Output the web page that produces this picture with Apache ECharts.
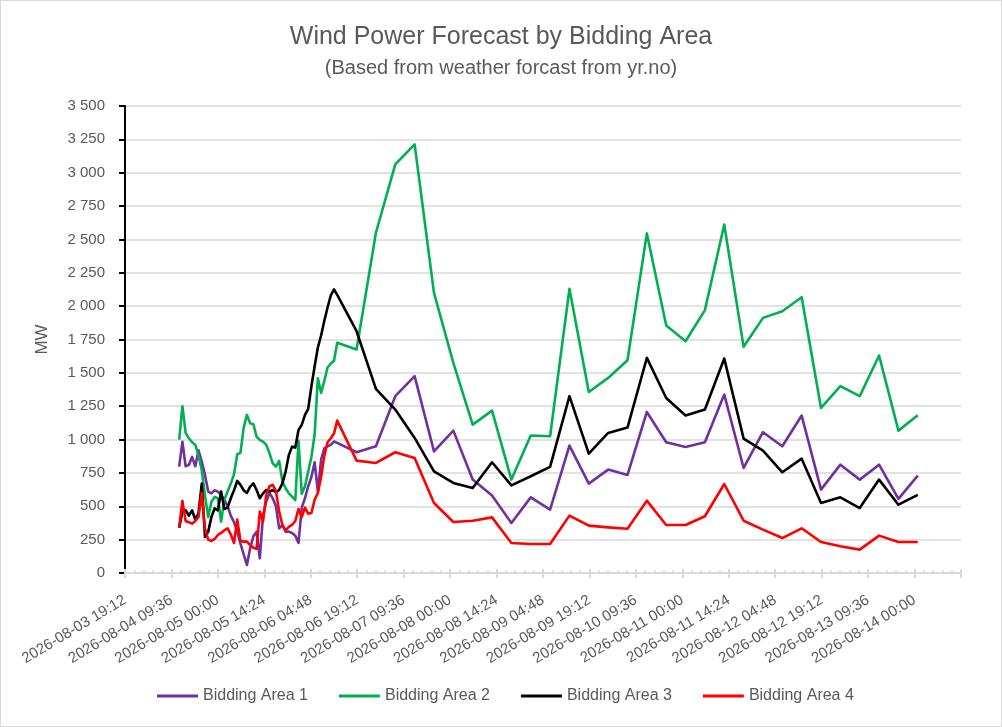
<!DOCTYPE html>
<html>
<head>
<meta charset="utf-8">
<script src="https://cdn.jsdelivr.net/npm/echarts@6/dist/echarts.min.js"></script>
<style>
html,body{margin:0;padding:0;background:#fff;}
#wrap{position:relative;width:1002px;height:727px;}
#chart{width:1002px;height:727px;}
#frame{position:absolute;left:0;top:0;width:1002px;height:727px;box-sizing:border-box;border:1px solid #d9d9d9;pointer-events:none;}
</style>
</head>
<body>
<div id="wrap"><div id="chart"></div><div id="frame"></div></div>
<script>
const times = [
"2026-08-04 12:00","2026-08-04 13:00","2026-08-04 14:00","2026-08-04 15:00","2026-08-04 16:00","2026-08-04 17:00",
"2026-08-04 18:00","2026-08-04 19:00","2026-08-04 20:00","2026-08-04 21:00","2026-08-04 22:00","2026-08-04 23:00",
"2026-08-05 00:00","2026-08-05 01:00","2026-08-05 02:00","2026-08-05 03:00","2026-08-05 04:00","2026-08-05 05:00",
"2026-08-05 06:00","2026-08-05 07:00","2026-08-05 08:00","2026-08-05 09:00","2026-08-05 10:00","2026-08-05 11:00",
"2026-08-05 12:00","2026-08-05 13:00","2026-08-05 14:00","2026-08-05 15:00","2026-08-05 16:00","2026-08-05 17:00",
"2026-08-05 18:00","2026-08-05 19:00","2026-08-05 20:00","2026-08-05 21:00","2026-08-05 22:00","2026-08-05 23:00",
"2026-08-06 00:00","2026-08-06 01:00","2026-08-06 02:00","2026-08-06 03:00","2026-08-06 04:00","2026-08-06 05:00",
"2026-08-06 06:00","2026-08-06 07:00","2026-08-06 08:00","2026-08-06 09:00","2026-08-06 10:00","2026-08-06 11:00",
"2026-08-06 12:00","2026-08-06 13:00",
"2026-08-06 19:00",
"2026-08-07 01:00","2026-08-07 07:00","2026-08-07 13:00","2026-08-07 19:00",
"2026-08-08 01:00","2026-08-08 07:00","2026-08-08 13:00","2026-08-08 19:00",
"2026-08-09 01:00","2026-08-09 07:00","2026-08-09 13:00","2026-08-09 19:00",
"2026-08-10 01:00","2026-08-10 07:00","2026-08-10 13:00","2026-08-10 19:00",
"2026-08-11 01:00","2026-08-11 07:00","2026-08-11 13:00","2026-08-11 19:00",
"2026-08-12 01:00","2026-08-12 07:00","2026-08-12 13:00","2026-08-12 19:00",
"2026-08-13 01:00","2026-08-13 07:00","2026-08-13 13:00","2026-08-13 19:00",
"2026-08-14 01:00"
];

const area1 = [797,984,800,810,870,800,920,835,735,610,597,620,610,585,550,500,430,380,310,220,
140,60,185,275,310,110,435,535,600,560,500,335,360,310,310,300,280,225,490,560,
650,720,830,610,850,935,950,960,985,975,
905,950,1325,1475,912,1067,700,580,375,567,475,955,670,775,735,1207,980,945,980,1337,
787,1055,950,1180,625,812,700,812,555,730];

const area2 = [1000,1250,1050,1010,980,960,880,770,580,420,535,570,560,385,550,610,670,740,890,900,
1090,1185,1122,1115,1022,997,985,960,897,822,797,840,685,635,597,572,547,990,595,650,
760,870,1040,1460,1350,1440,1540,1570,1590,1725,
1675,2550,3062,3212,2100,1575,1112,1217,700,1030,1025,2130,1357,1462,1595,2545,1855,1737,1970,2612,
1695,1912,1962,2067,1237,1400,1325,1630,1067,1182];

const area3 = [340,460,470,430,470,400,450,670,270,310,420,485,470,610,480,490,560,620,690,660,
620,600,647,672,622,560,597,622,610,622,605,622,672,760,885,947,940,1072,1110,1185,
1230,1400,1550,1690,1780,1890,1990,2080,2125,2085,
1812,1380,1225,1012,762,675,637,830,657,725,795,1325,895,1050,1090,1612,1312,1180,1225,1607,
1007,917,755,857,525,567,487,700,512,585];

const area4 = [345,540,390,380,370,390,420,600,330,250,240,255,285,300,320,335,290,225,400,240,
235,235,210,190,180,460,385,585,650,660,615,460,360,320,345,360,390,480,420,490,
445,450,550,600,720,880,980,1010,1045,1142,
842,825,905,862,525,382,392,417,225,217,217,430,355,342,332,542,360,360,425,667,
392,325,262,335,232,200,175,280,232,232];

const seriesNames = ["Bidding Area 1","Bidding Area 2","Bidding Area 3","Bidding Area 4"];
const seriesColors = ["#7030A0","#00B050","#000000","#FF0000"];
const yTicks = [0,250,500,750,1000,1250,1500,1750,2000,2250,2500,2750,3000,3250,3500];

// x axis expressed in hours since the first axis tick
const origin = Date.UTC(2026,7,3,19,12);
function toHours(s){
  const [d,t] = s.split(' ');
  const [Y,M,D] = d.split('-').map(Number);
  const [h,m] = t.split(':').map(Number);
  return (Date.UTC(Y,M-1,D,h,m) - origin) / 3600000;
}
function fmtX(v){
  const mins = Math.round(v*60);
  const dt = new Date(origin + mins*60000);
  const p = n => String(n).padStart(2,'0');
  return dt.getUTCFullYear()+'-'+p(dt.getUTCMonth()+1)+'-'+p(dt.getUTCDate())+' '+p(dt.getUTCHours())+':'+p(dt.getUTCMinutes());
}
function fmtY(v){
  if (v >= 1000) return Math.floor(v/1000) + ' ' + String(v%1000).padStart(3,'0');
  return String(v);
}
const xh = times.map(toHours);
const allSeries = [area1, area2, area3, area4];

const FONT = 'Liberation Sans, Arial, sans-serif';
const GREY = '#595959';
const X_INTERVAL = 14.4, X_MAX = 259.2;

const chart = echarts.init(document.getElementById('chart'), null, {renderer:'canvas'});
chart.setOption({
  animation: false,
  textStyle: {fontFamily: FONT},
  title: {
    text: 'Wind Power Forecast by Bidding Area',
    subtext: '(Based from weather forcast from yr.no)',
    left: 'center', top: 20, itemGap: 8,
    textStyle: {fontFamily: FONT, fontSize: 25, fontWeight: 'normal', color: GREY},
    subtextStyle: {fontFamily: FONT, fontSize: 20, color: GREY}
  },
  legend: {
    bottom: 18, left: 152,
    icon: 'rect', itemWidth: 41, itemHeight: 3, itemGap: 31,
    textStyle: {fontFamily: FONT, fontSize: 16, color: GREY},
    data: seriesNames
  },
  grid: {left: 125, right: 41, top: 106, bottom: 154},
  xAxis: [{
    type: 'value', min: 0, max: X_MAX, interval: X_INTERVAL,
    axisLine: {show: true, lineStyle: {color: '#d9d9d9', width: 2}},
    axisTick: {show: true, inside: true, length: 4, lineStyle: {color: '#d9d9d9', width: 2}},
    minorTick: {show: true, splitNumber: 5, length: 3, lineStyle: {color: '#d9d9d9', width: 1.5}},
    splitLine: {show: false},
    axisLabel: {
      rotate: 31, margin: 26, fontSize: 15, color: GREY, fontFamily: FONT,
      showMaxLabel: false, formatter: fmtX
    }
  },{
    type: 'value', min: 0, max: X_MAX, interval: X_INTERVAL, position: 'bottom',
    axisLine: {show: false},
    axisTick: {show: true, inside: false, length: 5, lineStyle: {color: '#d9d9d9', width: 2}},
    axisLabel: {show: false}, splitLine: {show: false}
  }],
  yAxis: {
    type: 'value', min: yTicks[0], max: yTicks[yTicks.length-1], interval: yTicks[1]-yTicks[0],
    name: 'MW', nameLocation: 'middle', nameGap: 74, nameRotate: 90,
    nameTextStyle: {fontFamily: FONT, fontSize: 17, color: GREY},
    axisLine: {show: true, lineStyle: {color: '#000', width: 2}},
    axisTick: {show: true, length: 6, lineStyle: {color: '#000', width: 2}},
    splitLine: {show: true, lineStyle: {color: '#d9d9d9', width: 1.5}},
    axisLabel: {margin: 20, fontSize: 15, color: GREY, fontFamily: FONT, formatter: fmtY}
  },
  series: allSeries.map((vals, k) => ({
    name: seriesNames[k], type: 'line', xAxisIndex: 0,
    showSymbol: false, symbol: 'none',
    color: seriesColors[k],
    lineStyle: {color: seriesColors[k], width: 2.6, join: 'round'},
    data: vals.map((v, i) => [xh[i], v])
  }))
});
</script>
</body>
</html>
